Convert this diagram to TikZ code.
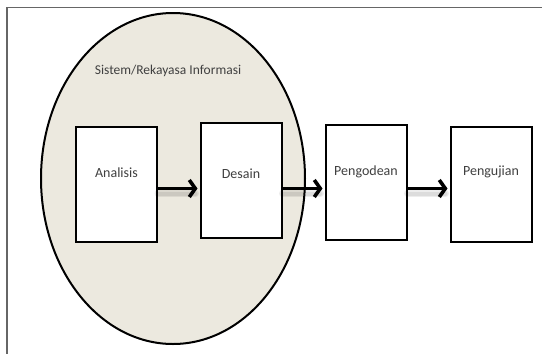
\documentclass[tikz,border=0pt]{standalone}
\usepackage{fontspec}
\setmainfont{Carlito}
\usetikzlibrary{arrows.meta,positioning}
\definecolor{setfill}{RGB}{236,233,223}
\definecolor{labelgray}{RGB}{64,64,64}
\begin{document}
\begin{tikzpicture}[x=1pt, y=1pt,
    stage/.style={draw=black, line width=2pt, fill=white, minimum width=81pt,
                  minimum height=115pt, text height=10pt, text depth=24pt,
                  font=\fontsize{14}{16}\selectfont, text=labelgray},
    flow/.style={line width=3.6pt, -{Straight Barb[length=6pt, width=17pt]}},
    flowshadow/.style={line width=7pt, black, opacity=0.07, line cap=round,
                       transform canvas={yshift=-5pt}}]
  \useasboundingbox (0,0) rectangle (542,-354);

  % --- Frame (top and left edges only) ---
  \draw[black!60, line width=1.5pt] (542,-7.5) -- (7,-7.5) -- (7,-354);

  % --- Set (ellipse drawn first, stages on top) ---
  \fill[setfill] (173,-178.5) ellipse (132 and 165.5);
  \draw[black, line width=2pt] (173,-178.5) ellipse (132 and 165.5);
  \node[font=\fontsize{13.5}{16}\selectfont, text=labelgray] (sistem) at (168,-71)
    {Sistem/Rekayasa Informasi};

  % --- Stages ---
  \node[stage] (analisis)  at (116.5,-184.5) {Analisis};
  \node[stage, text depth=15pt] (desain) at (241,-180.5) {Desain};
  \node[stage] (pengodean) at (366,-182)     {Pengodean};
  \node[stage, text depth=28pt] (pengujian) at (491,-184) {Pengujian};

  % --- Flow arrows (soft shadow underneath) ---
  \coordinate (flowline) at (0,-188.5);
  \foreach \from/\to in {analisis/desain, desain/pengodean, pengodean/pengujian} {
    \draw[flowshadow] (\from.east |- flowline) -- ([xshift=-4pt]\to.west |- flowline);
    \draw[flowshadow, line width=4pt] (\from.east |- flowline) -- ([xshift=-4pt]\to.west |- flowline);
    \draw[flow] (\from.east |- flowline) -- ([xshift=-2pt]\to.west |- flowline);
  }
\end{tikzpicture}
\end{document}
